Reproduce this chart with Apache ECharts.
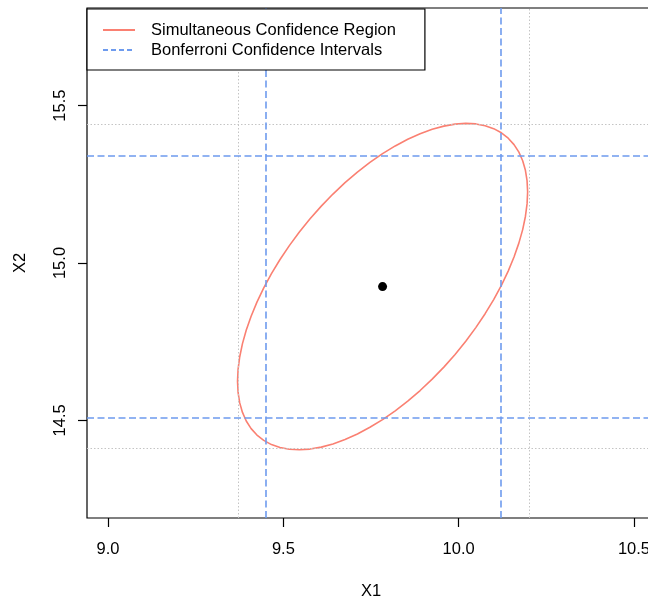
<!DOCTYPE html>
<html>
<head>
<meta charset="utf-8">
<script src="https://cdn.jsdelivr.net/npm/echarts@6/dist/echarts.min.js"></script>
<style>
html,body{margin:0;padding:0;background:#fff;}
#chart{width:648px;height:600px;}
</style>
</head>
<body>
<div id="chart"></div>
<script>
// ---- data ----
const xTicks = [9.0, 9.5, 10.0, 10.5];
const yTicks = [14.5, 15.0, 15.5];
const xRange = [8.94, 10.56];
const yRange = [14.19, 15.81];

const centerPoint = [9.783, 14.925];

// simultaneous confidence region (ellipse outline)
const ellipseX = [10.1967, 10.1951, 10.1904, 10.1826, 10.1718, 10.1579, 10.1413, 10.1219, 10.0999, 10.0755,
  10.0489, 10.0203, 9.9899, 9.9578, 9.9245, 9.8901, 9.8548, 9.8191, 9.7830, 9.7469,
  9.7112, 9.6759, 9.6415, 9.6082, 9.5762, 9.5457, 9.5171, 9.4905, 9.4661, 9.4441,
  9.4247, 9.4081, 9.3943, 9.3834, 9.3756, 9.3709, 9.3693, 9.3709, 9.3756, 9.3834,
  9.3942, 9.4081, 9.4247, 9.4441, 9.4661, 9.4905, 9.5171, 9.5457, 9.5761, 9.6082,
  9.6415, 9.6759, 9.7112, 9.7469, 9.7830, 9.8191, 9.8548, 9.8901, 9.9245, 9.9578,
  9.9898, 10.0203, 10.0489, 10.0755, 10.0999, 10.1219, 10.1413, 10.1579, 10.1717, 10.1826,
  10.1904, 10.1951, 10.1967];
const ellipseY = [15.2257, 15.2613, 15.2944, 15.3247, 15.3520, 15.3760, 15.3965, 15.4135, 15.4268, 15.4362,
  15.4418, 15.4434, 15.4411, 15.4348, 15.4247, 15.4107, 15.3931, 15.3719, 15.3473, 15.3195,
  15.2887, 15.2551, 15.2190, 15.1807, 15.1404, 15.0985, 15.0552, 15.0110, 14.9661, 14.9209,
  14.8758, 14.8310, 14.7869, 14.7439, 14.7022, 14.6623, 14.6243, 14.5887, 14.5556, 14.5253,
  14.4980, 14.4740, 14.4535, 14.4365, 14.4232, 14.4138, 14.4082, 14.4066, 14.4089, 14.4152,
  14.4253, 14.4393, 14.4569, 14.4781, 14.5027, 14.5305, 14.5613, 14.5949, 14.6310, 14.6693,
  14.7096, 14.7515, 14.7948, 14.8390, 14.8839, 14.9291, 14.9742, 15.0190, 15.0631, 15.1061,
  15.1478, 15.1877, 15.2257];

// Bonferroni confidence intervals
const bonfX = [9.452, 10.116];
const bonfY = [14.511, 15.342];
// simultaneous (projection) intervals, dotted grey
const simX = [9.369, 10.197];
const simY = [14.406, 15.444];

const seriesNames = ['Simultaneous Confidence Region', 'Bonferroni Confidence Intervals'];

// ---- chart ----
const FONT = 'Liberation Sans, Arial, Helvetica, sans-serif';
const FS = 16.5;
const RED = '#FA8072';
const BLUE = '#6E9BEE';
const GREY = '#C4C4C4';

const chart = echarts.init(document.getElementById('chart'), null, {renderer: 'canvas'});

const ellipseData = ellipseX.map((x, i) => [x, ellipseY[i]]);

const vLines = (arr) => arr.map(v => ({xAxis: v}));
const hLines = (arr) => arr.map(v => ({yAxis: v}));

const option = {
  backgroundColor: '#ffffff',
  animation: false,
  textStyle: {fontFamily: FONT, color: '#000'},
  grid: {
    left: 87, right: -7, top: 8, bottom: 82,
    show: true, borderColor: '#000', borderWidth: 1.2, backgroundColor: 'transparent',
    outerBoundsMode: 'none', containLabel: false
  },
  legend: {
    show: true,
    data: [
      {name: seriesNames[0]},
      {name: seriesNames[1], lineStyle: {type: [5, 3]}}
    ],
    orient: 'vertical',
    left: 87, top: 9,
    padding: [12, 29, 11, 15],
    itemGap: 2,
    itemWidth: 32, itemHeight: 14,
    itemStyle: {opacity: 0},
    backgroundColor: '#fff',
    borderColor: '#000', borderWidth: 1.2, borderRadius: 0,
    selectedMode: false,
    textStyle: {fontFamily: FONT, fontSize: FS, color: '#000', lineHeight: 18, padding: [0, 0, 0, 11]},
    z: 20
  },
  xAxis: {
    type: 'value', min: xRange[0], max: xRange[1],
    name: 'X1', nameLocation: 'middle', nameGap: 65,
    nameTextStyle: {fontFamily: FONT, fontSize: FS, color: '#000'},
    axisLine: {show: false},
    axisTick: {show: true, inside: false, length: 9, customValues: xTicks, lineStyle: {color: '#000', width: 1.2}},
    axisLabel: {show: true, customValues: xTicks, margin: 23, fontFamily: FONT, fontSize: FS, color: '#000',
      formatter: v => v.toFixed(1), showMinLabel: true, showMaxLabel: true},
    splitLine: {show: false}
  },
  yAxis: {
    type: 'value', min: yRange[0], max: yRange[1],
    name: 'X2', nameLocation: 'middle', nameGap: 58, nameRotate: 90,
    nameTextStyle: {fontFamily: FONT, fontSize: FS, color: '#000'},
    axisLine: {show: false},
    axisTick: {show: true, inside: false, length: 9, customValues: yTicks, lineStyle: {color: '#000', width: 1.2}},
    axisLabel: {show: true, customValues: yTicks, margin: 18, rotate: 90, fontFamily: FONT, fontSize: FS, color: '#000',
      formatter: v => v.toFixed(1)},
    splitLine: {show: false}
  },
  series: [
    {
      name: 'grey-intervals',
      type: 'line',
      data: [],
      silent: true,
      z: 1,
      markLine: {
        silent: true, symbol: ['none', 'none'], label: {show: false},
        lineStyle: {color: GREY, type: [1.5, 2], width: 1},
        emphasis: {disabled: true},
        data: vLines(simX).concat(hLines(simY))
      }
    },
    {
      name: seriesNames[1],
      type: 'line',
      data: [],
      silent: true,
      z: 2,
      symbol: 'none',
      lineStyle: {color: BLUE, type: [7, 3.5], width: 1.6},
      itemStyle: {color: BLUE},
      markLine: {
        silent: true, symbol: ['none', 'none'], label: {show: false},
        lineStyle: {color: BLUE, type: [7, 3.5], width: 1.6},
        emphasis: {disabled: true},
        data: vLines(bonfX).concat(hLines(bonfY))
      }
    },
    {
      name: seriesNames[0],
      type: 'line',
      data: ellipseData,
      smooth: false,
      symbol: 'none',
      silent: true,
      z: 3,
      lineStyle: {color: RED, width: 1.6, join: 'round'},
      itemStyle: {color: RED}
    },
    {
      name: 'center',
      type: 'scatter',
      data: [centerPoint],
      symbol: 'circle',
      symbolSize: 9,
      silent: true,
      z: 4,
      itemStyle: {color: '#000', opacity: 1}
    }
  ]
};
chart.setOption(option);
</script>
</body>
</html>
